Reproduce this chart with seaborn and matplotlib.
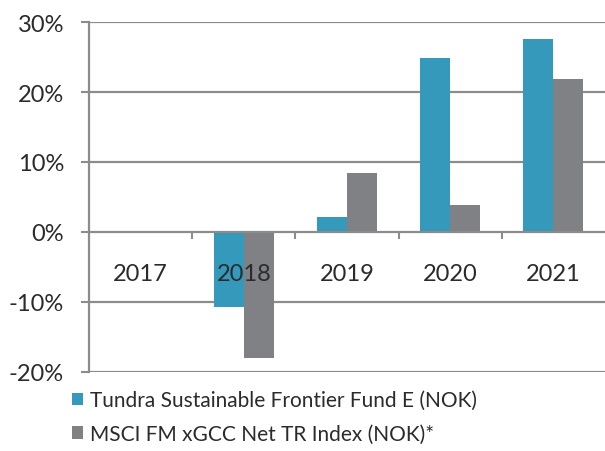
import pandas as pd
import seaborn as sb
import numpy as np
import matplotlib.pyplot as plt
from matplotlib.ticker import FuncFormatter, FixedLocator

# values (percent)
years = ["2017", "2018", "2019", "2020", "2021"]
tundra = [np.nan, -10.7, 2.1, 24.9, 27.6]
msci = [np.nan, -18.0, 8.4, 3.9, 21.9]
series = ["Tundra Sustainable Frontier Fund E (NOK)",
          "MSCI FM xGCC Net TR Index (NOK)*"]
colors = ["#3499BA", "#808185"]
yticks = [-20, -10, 0, 10, 20, 30]

oData = pd.DataFrame({
    "year": years * 2,
    "value": tundra + msci,
    "series": [series[0]] * len(years) + [series[1]] * len(years),
})

sb.set_style("white")
plt.rcParams["font.family"] = ["Lato", "DejaVu Sans"]
txt = "#2b2b2b"
grid = "#8c8c8c"

fig = plt.figure(figsize=(6.05, 4.52), dpi=100)
ax = fig.add_axes([0.147, 0.175, 0.853, 0.774])

sb.barplot(data=oData, x="year", y="value", hue="series", order=years,
           hue_order=series, palette=colors, width=0.58, gap=0,
           saturation=1, ax=ax, linewidth=0)

ax.set_xlim(-0.5, len(years) - 0.5)
ax.set_ylim(-20, 30)
ax.set_xlabel("")
ax.set_ylabel("")

# y axis
ax.yaxis.set_major_locator(FixedLocator(yticks))
ax.yaxis.set_major_formatter(FuncFormatter(lambda v, p: "%d%%" % v))
ax.tick_params(axis="y", length=6, width=1.5, color=grid, labelsize=17,
               labelcolor=txt, pad=12, left=True)
for v in yticks:
    if v != 0:
        ax.axhline(v, color=grid, lw=1.6, zorder=0)

# x axis at zero
for s in ["top", "right"]:
    ax.spines[s].set_visible(False)
ax.spines["left"].set_color(grid)
ax.spines["left"].set_linewidth(1.6)
ax.spines["bottom"].set_position(("data", 0))
ax.spines["bottom"].set_color(grid)
ax.spines["bottom"].set_linewidth(1.6)
ax.set_xticks(np.arange(0.5, len(years) - 0.5), minor=False)
ax.set_xticklabels([])
ax.set_xticks(np.arange(len(years)), minor=True)
ax.set_xticklabels(years, minor=True)
ax.tick_params(axis="x", which="major", length=5, width=1.5, color=grid,
               direction="out", bottom=True)
ax.tick_params(axis="x", which="minor", length=0, labelsize=17,
               labelcolor=txt, pad=22)
# year labels drawn over the bars
ax.set_axisbelow(False)

# legend below
handles, labels = ax.get_legend_handles_labels()
ax.legend(handles, labels, loc="upper left", bbox_to_anchor=(-0.058, -0.017),
          frameon=False, fontsize=15, handlelength=0.55, handleheight=0.55,
          handletextpad=0.35, labelspacing=0.65, labelcolor=txt,
          borderaxespad=0.2)

fig.savefig("out.png", dpi=100)
